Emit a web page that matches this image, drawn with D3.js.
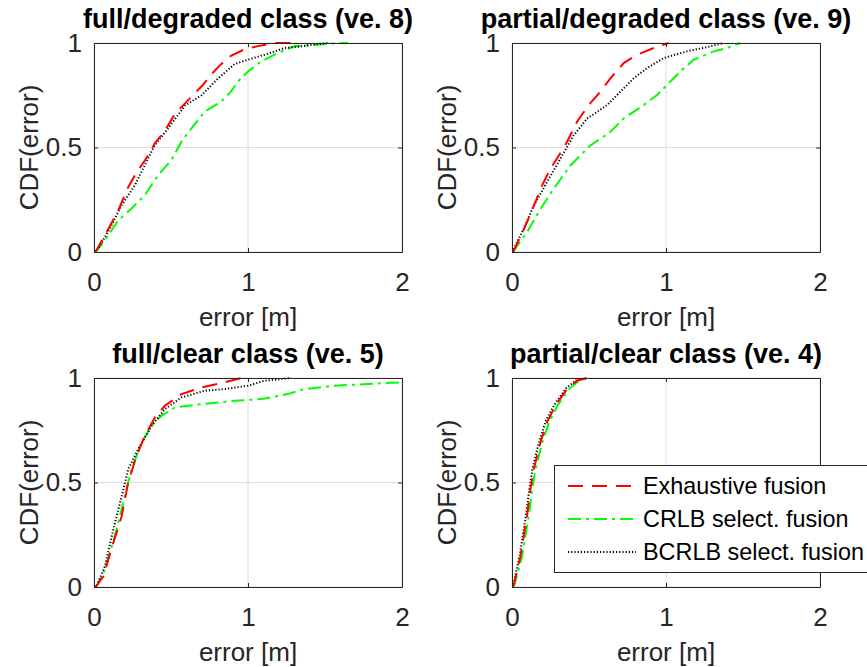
<!DOCTYPE html>
<html>
<head>
<meta charset="utf-8">
<title>CDF of error</title>
<script src="https://cdn.jsdelivr.net/npm/d3@7/dist/d3.min.js"></script>
<style>
  body { margin: 0; background: #fff; }
  svg { font-family: "Liberation Sans", Arial, sans-serif; }
</style>
</head>
<body>
<svg id="chart" width="867" height="667"></svg>
<script>
// titles and tick labels
const panelTitles = ["full/degraded class (ve. 8)", "partial/degraded class (ve. 9)",
                     "full/clear class (ve. 5)", "partial/clear class (ve. 4)"];
const xTicks = [0, 1, 2];
const yTicks = [0, 0.5, 1];
const seriesNames = ["Exhaustive fusion", "CRLB select. fusion", "BCRLB select. fusion"];

// full/degraded (ve. 8) : [error, CDF]
const fdExhaustive = [[0,0],[0.017,0.01],[0.093,0.11],[0.158,0.2],[0.222,0.31],[0.276,0.38],[0.341,0.45],[0.395,0.52],[0.46,0.58],[0.525,0.66],[0.59,0.71],[0.655,0.76],[0.708,0.8],[0.762,0.85],[0.827,0.9],[0.892,0.94],[0.978,0.97],[1.065,0.985],[1.17,1],[1.32,1]];
const fdCrlb = [[0,0],[0.017,0.005],[0.093,0.08],[0.158,0.152],[0.244,0.208],[0.33,0.272],[0.417,0.368],[0.503,0.44],[0.568,0.528],[0.633,0.592],[0.72,0.672],[0.827,0.72],[0.89,0.768],[0.935,0.816],[1,0.864],[1.086,0.912],[1.194,0.952],[1.3,0.984],[1.45,0.992],[1.58,1],[1.65,1]];
const fdBcrlb = [[0,0],[0.028,0.016],[0.114,0.128],[0.179,0.224],[0.266,0.32],[0.33,0.416],[0.395,0.512],[0.48,0.59],[0.59,0.7],[0.698,0.75],[0.805,0.83],[0.914,0.9],[1,0.92],[1.108,0.944],[1.238,0.976],[1.345,0.984],[1.45,0.995],[1.52,1]];

// partial/degraded (ve. 9)
const pdExhaustive = [[0,0],[0.011,0.005],[0.087,0.125],[0.141,0.22],[0.195,0.318],[0.249,0.398],[0.325,0.486],[0.357,0.526],[0.422,0.623],[0.498,0.703],[0.574,0.767],[0.639,0.831],[0.725,0.904],[0.812,0.944],[0.92,0.976],[1.017,1]];
const pdCrlb = [[0,0],[0.01,0.005],[0.097,0.093],[0.184,0.205],[0.27,0.302],[0.379,0.414],[0.509,0.51],[0.638,0.574],[0.725,0.639],[0.855,0.703],[0.942,0.751],[1.006,0.799],[1.093,0.864],[1.18,0.92],[1.31,0.96],[1.396,0.976],[1.483,1]];
const pdBcrlb = [[0,0],[0.01,0.013],[0.076,0.11],[0.14,0.22],[0.227,0.334],[0.314,0.446],[0.4,0.558],[0.487,0.638],[0.617,0.703],[0.704,0.767],[0.79,0.831],[0.877,0.88],[0.985,0.928],[1.136,0.96],[1.266,0.98],[1.374,1]];

// full/clear (ve. 5)
const fcExhaustive = [[0,0],[0.017,0.006],[0.06,0.05],[0.125,0.21],[0.18,0.34],[0.222,0.5],[0.276,0.627],[0.33,0.723],[0.395,0.811],[0.46,0.867],[0.568,0.923],[0.698,0.955],[0.849,0.979],[0.957,1],[1,1]];
const fcCrlb = [[0,0],[0.017,0.003],[0.071,0.083],[0.147,0.275],[0.2,0.435],[0.244,0.563],[0.309,0.691],[0.374,0.771],[0.438,0.819],[0.525,0.859],[0.698,0.875],[0.914,0.891],[1.086,0.899],[1.257,0.923],[1.365,0.947],[1.56,0.963],[1.78,0.971],[1.98,0.979]];
const fcBcrlb = [[0,0],[0.017,0.006],[0.071,0.099],[0.125,0.275],[0.18,0.435],[0.222,0.563],[0.287,0.659],[0.374,0.771],[0.46,0.851],[0.568,0.907],[0.72,0.939],[0.849,0.947],[1,0.963],[1.108,0.987],[1.28,1]];

// partial/clear (ve. 4)
const pcExhaustive = [[0,0],[0.011,0.008],[0.054,0.144],[0.097,0.337],[0.119,0.465],[0.141,0.562],[0.184,0.69],[0.227,0.787],[0.281,0.867],[0.357,0.947],[0.422,0.987],[0.487,1]];
const pcCrlb = [[0,0],[0.015,0.008],[0.065,0.144],[0.108,0.337],[0.13,0.465],[0.152,0.562],[0.196,0.69],[0.24,0.787],[0.295,0.867],[0.37,0.947],[0.435,0.987],[0.5,1]];
const pcBcrlb = [[0,0],[0.008,0.01],[0.05,0.15],[0.09,0.34],[0.113,0.47],[0.134,0.57],[0.178,0.7],[0.22,0.795],[0.275,0.872],[0.35,0.95],[0.415,0.988],[0.48,1]];

const panelData = [
  [fdExhaustive, fdCrlb, fdBcrlb],
  [pdExhaustive, pdCrlb, pdBcrlb],
  [fcExhaustive, fcCrlb, fcBcrlb],
  [pcExhaustive, pcCrlb, pcBcrlb]
];

const styles = [
  { color: "#ff0000", dash: "15,9" },
  { color: "#00ff00", dash: "13,5,3,5" },
  { color: "#000000", dash: "1.2,2" }
];

const svg = d3.select("#chart");
const axisColor = "#262626";
const fontSize = 26;

// plot boxes [left, top] ; every box is 308 x 209
const lefts = [94, 512];
const tops = [43, 378];
const w = 308, h = 209;

panelTitles.forEach((title, i) => {
  const x0 = lefts[i % 2], y0 = tops[Math.floor(i / 2)];
  const xScale = d3.scaleLinear().domain([0, 2]).range([x0, x0 + w]);
  const yScale = d3.scaleLinear().domain([0, 1]).range([y0 + h, y0]);

  const g = svg.append("g");

  g.append("rect").attr("x", x0).attr("y", y0).attr("width", w).attr("height", h)
    .attr("fill", "#fff");

  // grid
  g.selectAll(".gx").data(xTicks).enter().append("line")
    .attr("x1", d => xScale(d)).attr("x2", d => xScale(d))
    .attr("y1", y0).attr("y2", y0 + h)
    .attr("stroke", "#dedede").attr("stroke-width", 1);
  g.selectAll(".gy").data(yTicks).enter().append("line")
    .attr("x1", x0).attr("x2", x0 + w)
    .attr("y1", d => yScale(d)).attr("y2", d => yScale(d))
    .attr("stroke", "#dedede").attr("stroke-width", 1);

  // clip for curves
  const clipId = "clip" + i;
  svg.append("clipPath").attr("id", clipId).append("rect")
    .attr("x", x0).attr("y", y0 - 2).attr("width", w).attr("height", h + 4);

  const line = d3.line().x(d => xScale(d[0])).y(d => yScale(d[1]));
  // draw in order so red is on top like the reference
  [1, 2, 0].forEach(k => {
    g.append("path")
      .attr("clip-path", "url(#" + clipId + ")")
      .attr("d", line(panelData[i][k]))
      .attr("fill", "none")
      .attr("stroke", styles[k].color)
      .attr("stroke-width", 2)
      .attr("stroke-dasharray", styles[k].dash);
  });

  // axes, ticks pointing inwards
  const xAxis = d3.axisBottom(xScale).tickValues(xTicks).tickFormat(d3.format("d"))
    .tickSizeInner(-4).tickSizeOuter(0).tickPadding(21);
  const yAxis = d3.axisLeft(yScale).tickValues(yTicks).tickFormat(d => d === 0.5 ? "0.5" : d)
    .tickSizeInner(-4).tickSizeOuter(0).tickPadding(12);
  const xTop = d3.axisTop(xScale).tickValues(xTicks).tickFormat("").tickSizeInner(-4).tickSizeOuter(0);
  const yRight = d3.axisRight(yScale).tickValues(yTicks).tickFormat("").tickSizeInner(-4).tickSizeOuter(0);

  const axes = [
    g.append("g").attr("transform", "translate(0," + (y0 + h) + ")").call(xAxis),
    g.append("g").attr("transform", "translate(" + x0 + ",0)").call(yAxis),
    g.append("g").attr("transform", "translate(0," + y0 + ")").call(xTop),
    g.append("g").attr("transform", "translate(" + (x0 + w) + ",0)").call(yRight)
  ];
  axes.forEach(a => {
    a.selectAll("path").attr("stroke", axisColor).attr("stroke-width", 1);
    a.selectAll("line").attr("stroke", axisColor);
    a.selectAll("text").attr("fill", axisColor).style("font-size", fontSize + "px")
      .style("font-family", "Liberation Sans, Arial, sans-serif");
  });

  // labels
  g.append("text").attr("x", x0 + w / 2).attr("y", y0 + h + 74)
    .attr("text-anchor", "middle").attr("fill", axisColor)
    .style("font-size", fontSize + "px").text("error [m]");
  g.append("text")
    .attr("transform", "translate(" + (x0 - 56) + "," + (y0 + h / 2) + ") rotate(-90)")
    .attr("text-anchor", "middle").attr("fill", axisColor)
    .style("font-size", fontSize + "px").text("CDF(error)");
  g.append("text").attr("x", x0 + w / 2).attr("y", y0 - 15)
    .attr("text-anchor", "middle").attr("fill", "#000")
    .style("font-size", "27px").style("font-weight", "bold").text(title);
});

// legend in the last panel
const legend = svg.append("g");
legend.append("rect").attr("x", 554.5).attr("y", 465.5).attr("width", 330).attr("height", 107)
  .attr("fill", "#fff").attr("stroke", axisColor).attr("stroke-width", 1);
const rowY = d3.scalePoint().domain(seriesNames).range([486, 552]);
seriesNames.forEach((name, k) => {
  legend.append("line").attr("x1", 568).attr("x2", 636)
    .attr("y1", rowY(name)).attr("y2", rowY(name))
    .attr("stroke", styles[k].color).attr("stroke-width", 2)
    .attr("stroke-dasharray", styles[k].dash);
  legend.append("text").attr("x", 643).attr("y", rowY(name)).attr("dy", "0.35em")
    .attr("fill", "#000").style("font-size", "23.4px").text(name);
});
</script>
</body>
</html>
